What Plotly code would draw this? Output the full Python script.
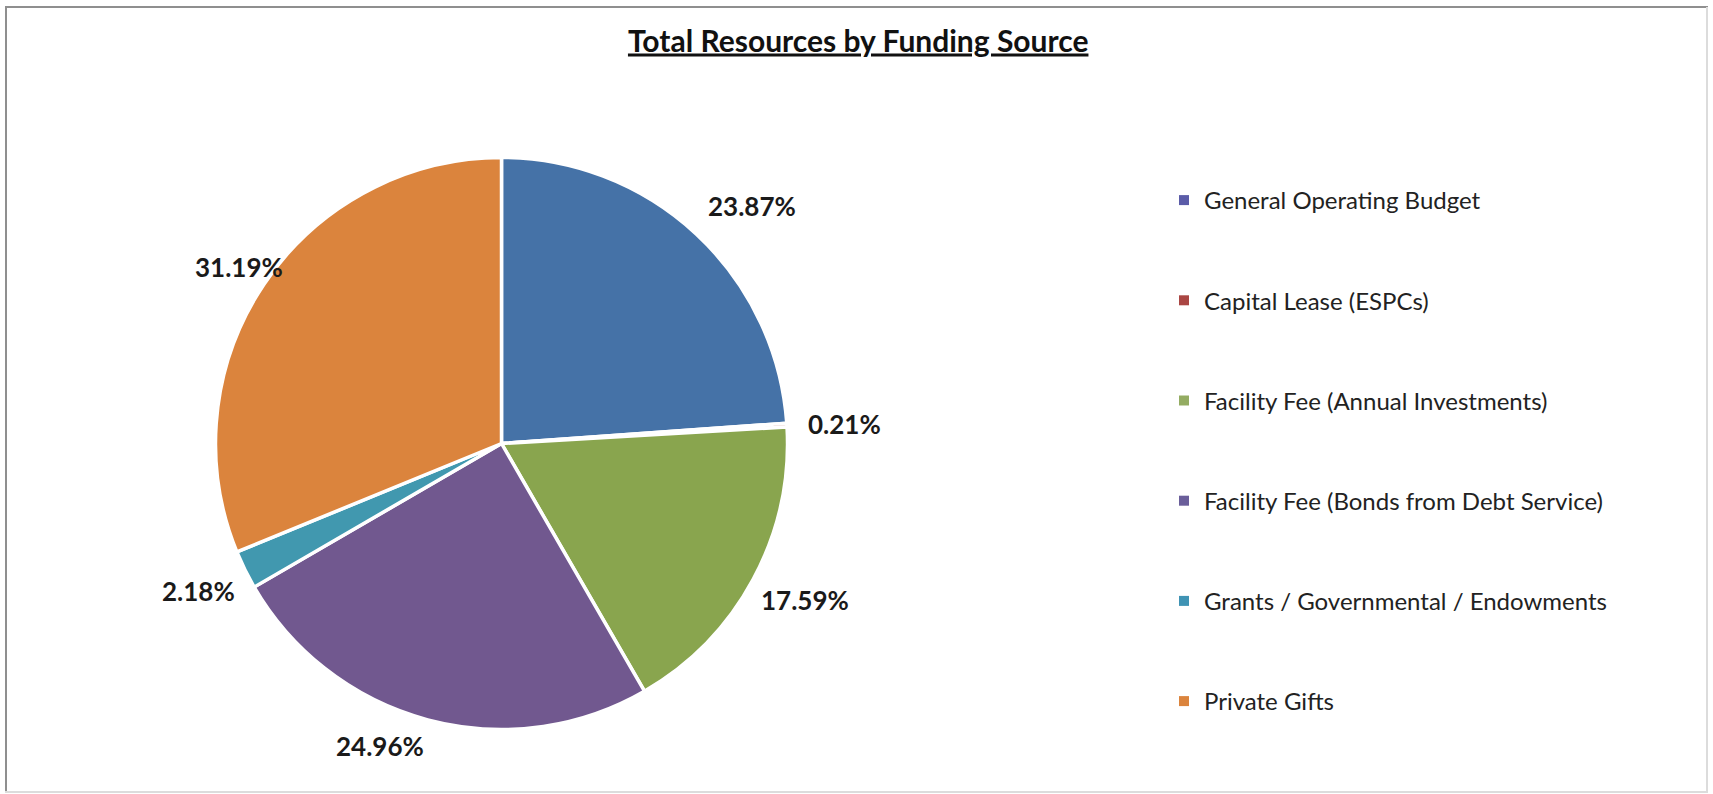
import math
import plotly.graph_objects as go

# Funding sources and their share of total resources (%)
sources = [
    "General Operating Budget",
    "Capital Lease (ESPCs)",
    "Facility Fee (Annual Investments)",
    "Facility Fee (Bonds from Debt Service)",
    "Grants / Governmental / Endowments",
    "Private Gifts",
]
shares = [23.87, 0.21, 17.59, 24.96, 2.18, 31.19]
slice_colors = ["#4572A7", "#AA4643", "#89A54E", "#71588F", "#4198AF", "#DB843D"]
legend_colors = ["#5B5CA8", "#AA4643", "#94AC62", "#6A5E9A", "#3F93B4", "#DB843D"]

W, H = 1713, 794
cx, cy, r = 501.5, 443.5, 286.0      # pie centre and radius in pixels

# Outside-end label placement: anchor point on the slice's mid-angle ray,
# 'gap' px beyond the rim, with the text box attached to it by these anchors
label_gap = [16, 20, 8, 10, 10, 30]
label_xanchor = ["left", "left", "left", "right", "right", "center"]
label_yanchor = ["bottom", "middle", "top", "top", "top", "middle"]

fig = go.Figure()

fig.add_trace(go.Pie(
    labels=sources,
    values=shares,
    sort=False,
    direction="clockwise",
    rotation=0,
    textinfo="none",
    hoverinfo="label+percent",
    marker=dict(colors=slice_colors, line=dict(color="white", width=3.5)),
    domain=dict(x=[(cx - r) / W, (cx + r) / W], y=[1 - (cy + r) / H, 1 - (cy - r) / H]),
    showlegend=False,
))

# Legend entries as square swatches, one group each so they can be spaced out
for i, (name, col) in enumerate(zip(sources, legend_colors)):
    fig.add_trace(go.Scatter(
        x=[None], y=[None], mode="markers", name=name,
        marker=dict(symbol="square", size=10, color=col),
        legendgroup=f"g{i}", showlegend=True,
    ))

# Percentage labels outside each slice
total = sum(shares)
cum = 0.0
annotations = []
for v, gap, xa, ya in zip(shares, label_gap, label_xanchor, label_yanchor):
    mid = (cum + v / 2) / total * 2 * math.pi
    cum += v
    dist = r + gap
    px = cx + dist * math.sin(mid)
    py = cy - dist * math.cos(mid)
    annotations.append(dict(
        x=px / W, y=1 - py / H, xref="paper", yref="paper",
        text=f"<b>{v:.2f}%</b>", showarrow=False,
        font=dict(family="Lato", size=26, color="#1a1a1a"),
        xanchor=xa, yanchor=ya, borderpad=0,
    ))

# Chart frame
shapes = [
    dict(type="line", xref="paper", yref="paper", x0=5 / W, x1=1708 / W, y0=1 - 7 / H, y1=1 - 7 / H,
         line=dict(color="#8f8f8f", width=2)),
    dict(type="line", xref="paper", yref="paper", x0=6 / W, x1=6 / W, y0=1 - 7 / H, y1=1 - 792 / H,
         line=dict(color="#8f8f8f", width=2)),
    dict(type="line", xref="paper", yref="paper", x0=1707 / W, x1=1707 / W, y0=1 - 7 / H, y1=1 - 792 / H,
         line=dict(color="#dcdcdc", width=2)),
    dict(type="line", xref="paper", yref="paper", x0=5 / W, x1=1708 / W, y0=1 - 792 / H, y1=1 - 792 / H,
         line=dict(color="#dcdcdc", width=2)),
]

fig.update_layout(
    width=W, height=H,
    margin=dict(l=0, r=0, t=0, b=0),
    paper_bgcolor="white", plot_bgcolor="white",
    title=dict(
        text="<b><u>Total Resources by Funding Source</u></b>",
        x=0.501, xanchor="center", y=1 - 41 / H, yanchor="middle",
        font=dict(family="Lato", size=30, color="#111111"),
    ),
    xaxis=dict(visible=False),
    yaxis=dict(visible=False),
    legend=dict(
        x=1164 / W, y=1 - 178 / H, xanchor="left", yanchor="top",
        font=dict(family="Lato", size=24, color="#222222"),
        traceorder="grouped", tracegroupgap=66,
        bgcolor="rgba(0,0,0,0)",
    ),
    annotations=annotations,
    shapes=shapes,
)

fig.write_html("out.html")
